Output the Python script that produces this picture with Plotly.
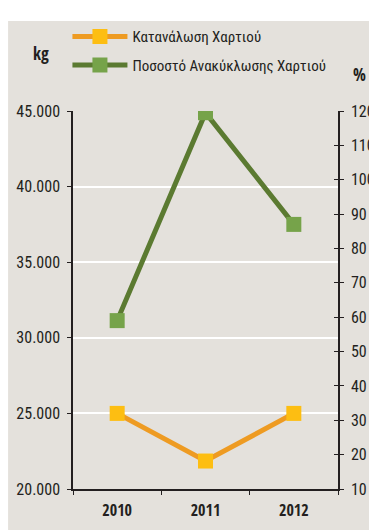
import plotly.graph_objects as go

# chart data
years = ["2010", "2011", "2012"]
consumption_kg = [25000, 21850, 25000]
recycling_pct = [59, 119.5, 87]

kg_ticks = [20000, 25000, 30000, 35000, 40000, 45000]
pct_ticks = [10, 20, 30, 40, 50, 60, 70, 80, 90, 100, 110, 120]

FONT = "Roboto Condensed, DejaVu Sans Condensed, sans-serif"
BOLD = "Open Sans Condensed, Roboto Condensed, sans-serif"
TXT = "#231F20"
BG = "#E4E1DC"

fig = go.Figure()

fig.add_trace(go.Scatter(
    x=years, y=consumption_kg, name="Κατανάλωση Χαρτιού",
    mode="lines+markers", legendgroup="a",
    line=dict(color="#EE9B22", width=5),
    marker=dict(symbol="square", size=15, color="#FDBE12"),
    yaxis="y",
))
fig.add_trace(go.Scatter(
    x=years, y=recycling_pct, name="Ποσοστό Ανακύκλωσης Χαρτιού",
    mode="lines+markers", legendgroup="b",
    line=dict(color="#5B7A31", width=5),
    marker=dict(symbol="square", size=15, color="#76A34A"),
    yaxis="y2",
))
# empty trace so the inner half of the right axis ticks is drawn
fig.add_trace(go.Scatter(x=years, y=[None, None, None], yaxis="y3",
                         showlegend=False, hoverinfo="skip"))

fig.update_layout(
    width=369, height=522,
    margin=dict(l=65, r=39, t=94, b=41),
    paper_bgcolor="white",
    plot_bgcolor="rgba(0,0,0,0)",
    separators=",.",
    font=dict(family=FONT, size=16, color=TXT),
    showlegend=True,
    legend=dict(
        x=-0.021, xanchor="left", y=1.24, yanchor="top",
        bgcolor="rgba(0,0,0,0)", font=dict(family=FONT, size=15, color=TXT),
        itemwidth=55, tracegroupgap=6,
    ),
    xaxis=dict(
        type="category", range=[-0.5, 2.5],
        showline=True, linecolor=TXT, linewidth=1.5,
        ticks="outside", tickson="boundaries", ticklen=4, tickcolor=TXT,
        ticklabelstandoff=6,
        showgrid=False, zeroline=False, automargin=False,
        tickfont=dict(family=BOLD, size=16, color=TXT, weight="bold"),
    ),
    yaxis=dict(
        range=[20000, 45000], tickvals=kg_ticks, tickformat=",d",
        showline=True, linecolor=TXT, linewidth=1.5,
        ticks="outside", ticklen=4, tickcolor=TXT, ticklabelstandoff=4,
        showgrid=True, gridcolor="white", gridwidth=1.5, zeroline=False,
        automargin=False,
    ),
    yaxis2=dict(
        range=[10, 120], tickvals=pct_ticks, overlaying="y", side="right",
        showline=True, linecolor=TXT, linewidth=1.5,
        ticks="outside", ticklen=4, tickcolor=TXT, ticklabelstandoff=4,
        showgrid=False, zeroline=False, automargin=False,
    ),
    yaxis3=dict(
        range=[10, 120], tickvals=pct_ticks, overlaying="y", side="right",
        showline=False, showticklabels=False,
        ticks="inside", ticklen=4, tickcolor=TXT,
        showgrid=False, zeroline=False, automargin=False,
    ),
    shapes=[dict(
        type="rect", xref="paper", yref="paper", layer="below",
        x0=-0.245, x1=1.25, y0=-0.2, y1=1.238,
        fillcolor=BG, line=dict(width=0),
    )],
    annotations=[
        dict(text="<b>kg</b>", xref="paper", yref="paper", x=-0.121, y=1.152,
             xanchor="center", yanchor="middle",
             showarrow=False, font=dict(family=BOLD, size=17, color=TXT)),
        dict(text="<b>%</b>", xref="paper", yref="paper", x=1.083, y=1.096,
             xanchor="center", yanchor="middle",
             showarrow=False, font=dict(family=BOLD, size=17, color=TXT)),
    ],
)

fig.write_html("out.html")
